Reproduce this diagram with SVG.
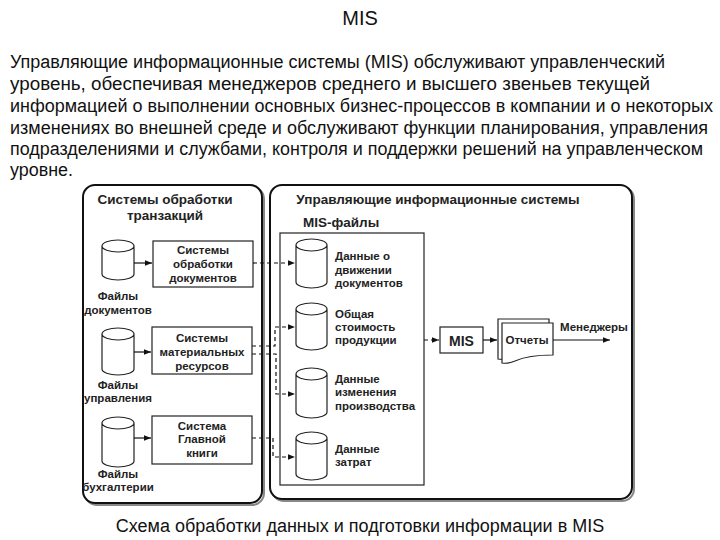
<svg xmlns="http://www.w3.org/2000/svg" width="720" height="540" viewBox="0 0 720 540">
<defs>
<marker id="ah" viewBox="0 0 10 10" refX="10" refY="5" markerWidth="7" markerHeight="7" markerUnits="userSpaceOnUse" orient="auto"><path d="M0,1 L10,5 L0,9 z" fill="#111"/></marker>
</defs>
<style>
.t{font-family:"Liberation Sans",Arial,sans-serif;fill:#111}
.b{font-family:"Liberation Sans",Arial,sans-serif;font-weight:bold;fill:#222}
.s{font-size:11.5px}
.p{font-size:18px}
.h{font-size:13.5px}
.box{fill:#fff;stroke:#222;stroke-width:1.2}
.cyl{fill:#fff;stroke:#222;stroke-width:1.2}
.panel{fill:#fff;stroke:#111;stroke-width:2}
.sh{fill:none;stroke:#888;stroke-width:2}
.sol{fill:none;stroke:#111;stroke-width:1.2}
.dash{fill:none;stroke:#111;stroke-width:1.2;stroke-dasharray:4 3}
</style>
<rect width="720" height="540" fill="#fff"/>
<g id="heading">
<text class="t" x="360" y="25" font-size="20" text-anchor="middle">MIS</text>
<text class="t p" x="10" y="68" textLength="655" lengthAdjust="spacingAndGlyphs">Управляющие информационные системы (MIS) обслуживают управленческий</text>
<text class="t p" x="10" y="90" textLength="640" lengthAdjust="spacingAndGlyphs">уровень, обеспечивая менеджеров среднего и высшего звеньев текущей</text>
<text class="t p" x="10" y="112" textLength="703" lengthAdjust="spacingAndGlyphs">информацией о выполнении основных бизнес-процессов в компании и о некоторых</text>
<text class="t p" x="10" y="134" textLength="698" lengthAdjust="spacingAndGlyphs">изменениях во внешней среде и обслуживают функции планирования, управления</text>
<text class="t p" x="10" y="155" textLength="693" lengthAdjust="spacingAndGlyphs">подразделениями и службами, контроля и поддержки решений на управленческом</text>
<text class="t p" x="10" y="176" textLength="63" lengthAdjust="spacingAndGlyphs">уровне.</text>
</g>
<g id="panel-tps">
<rect class="sh" x="85" y="187" width="179" height="318" rx="12"/>
<rect class="panel" x="83" y="185" width="179" height="318" rx="12"/>
<text class="b h" x="165" y="204" text-anchor="middle">Системы обработки</text>
<text class="b h" x="165" y="220" text-anchor="middle">транзакций</text>
</g>
<g id="panel-mis">
<rect class="sh" x="272" y="187" width="362" height="314" rx="12"/>
<rect class="panel" x="270" y="185" width="362" height="314" rx="12"/>
<text class="b h" x="438" y="204" text-anchor="middle">Управляющие информационные системы</text>
<text class="b h" x="303" y="227">MIS-файлы</text>
</g>
<g id="mis-files">
<rect class="box" x="280" y="233" width="144" height="252"/>
</g>
<g id="cyl-docs">
<path class="cyl" d="M102,246 A16,6 0 0 1 134,246 V274 A16,6 0 0 1 102,274 Z M102,246 A16,6 0 0 0 134,246"/>
<text class="b s" x="118" y="300" text-anchor="middle">Файлы</text>
<text class="b s" x="118" y="314" text-anchor="middle">документов</text>
</g>
<g id="cyl-mgmt">
<path class="cyl" d="M102,334 A16,6 0 0 1 134,334 V369 A16,6 0 0 1 102,369 Z M102,334 A16,6 0 0 0 134,334"/>
<text class="b s" x="118" y="389" text-anchor="middle">Файлы</text>
<text class="b s" x="118" y="402" text-anchor="middle">управления</text>
</g>
<g id="cyl-acc">
<path class="cyl" d="M102,423 A16,6 0 0 1 134,423 V461 A16,6 0 0 1 102,461 Z M102,423 A16,6 0 0 0 134,423"/>
<text class="b s" x="118" y="478" text-anchor="middle">Файлы</text>
<text class="b s" x="118" y="491" text-anchor="middle">бухгалтерии</text>
</g>
<g id="sys-docs">
<rect class="box" x="153" y="241" width="100" height="46"/>
<text class="b s" x="203" y="254" text-anchor="middle">Системы</text>
<text class="b s" x="203" y="268" text-anchor="middle">обработки</text>
<text class="b s" x="203" y="282" text-anchor="middle">документов</text>
</g>
<g id="sys-mat">
<rect class="box" x="152" y="327" width="100" height="47"/>
<text class="b s" x="202" y="342" text-anchor="middle">Системы</text>
<text class="b s" x="202" y="356" text-anchor="middle">материальных</text>
<text class="b s" x="202" y="370" text-anchor="middle">ресурсов</text>
</g>
<g id="sys-ledger">
<rect class="box" x="152" y="416" width="100" height="48"/>
<text class="b s" x="202" y="430" text-anchor="middle">Система</text>
<text class="b s" x="202" y="443" text-anchor="middle">Главной</text>
<text class="b s" x="202" y="457" text-anchor="middle">книги</text>
</g>
<g id="f-docmove">
<path class="cyl" d="M296,245 A15.5,6 0 0 1 327,245 V282 A15.5,6 0 0 1 296,282 Z M296,245 A15.5,6 0 0 0 327,245"/>
<text class="b s" x="335" y="260">Данные о</text>
<text class="b s" x="335" y="274">движении</text>
<text class="b s" x="335" y="287">документов</text>
</g>
<g id="f-cost">
<path class="cyl" d="M296,309 A15.5,6 0 0 1 327,309 V344 A15.5,6 0 0 1 296,344 Z M296,309 A15.5,6 0 0 0 327,309"/>
<text class="b s" x="335" y="318">Общая</text>
<text class="b s" x="335" y="331">стоимость</text>
<text class="b s" x="335" y="344">продукции</text>
</g>
<g id="f-prod">
<path class="cyl" d="M296,374 A15.5,6 0 0 1 327,374 V412 A15.5,6 0 0 1 296,412 Z M296,374 A15.5,6 0 0 0 327,374"/>
<text class="b s" x="335" y="383">Данные</text>
<text class="b s" x="335" y="396">изменения</text>
<text class="b s" x="335" y="410">производства</text>
</g>
<g id="f-exp">
<path class="cyl" d="M296,438 A15.5,6 0 0 1 327,438 V474 A15.5,6 0 0 1 296,474 Z M296,438 A15.5,6 0 0 0 327,438"/>
<text class="b s" x="335" y="453">Данные</text>
<text class="b s" x="335" y="466">затрат</text>
</g>
<g id="mis">
<rect class="box" x="440" y="327" width="43" height="26"/>
<text class="b" x="461.5" y="346" font-size="14" text-anchor="middle">MIS</text>
</g>
<g id="reports">
<path class="box" d="M498,319 H549 V352 Q525,352 512,357 Q505,360 498,359 Z"/>
<path class="box" d="M502,323 H553 V355 Q528,355 515,361 Q508,364 502,363 Z"/>
<text class="b s" x="527" y="344" text-anchor="middle">Отчеты</text>
</g>
<g id="managers">
<text class="b s" x="594" y="331" text-anchor="middle">Менеджеры</text>
</g>
<g id="connectors">
<line class="sol" x1="134" y1="263" x2="152" y2="263" marker-end="url(#ah)"/>
<line class="sol" x1="134" y1="352" x2="151" y2="352" marker-end="url(#ah)"/>
<line class="sol" x1="134" y1="438" x2="151" y2="438" marker-end="url(#ah)"/>
<line class="dash" x1="253" y1="263" x2="295" y2="263" marker-end="url(#ah)"/>
<polyline class="dash" points="252,346 275,346 275,327 295,327" marker-end="url(#ah)"/>
<polyline class="dash" points="252,354 276,354 276,394 295,394" marker-end="url(#ah)"/>
<polyline class="dash" points="252,438 273,438 273,457 295,457" marker-end="url(#ah)"/>
<line class="dash" x1="424" y1="340" x2="439" y2="340" marker-end="url(#ah)"/>
<line class="sol" x1="483" y1="340" x2="497" y2="340" marker-end="url(#ah)"/>
<line class="sol" x1="553" y1="340" x2="610" y2="340" marker-end="url(#ah)"/>
</g>
<g id="caption">
<text class="t" x="360" y="532" font-size="18" text-anchor="middle">Схема обработки данных и подготовки информации в MIS</text>
</g>
</svg>
